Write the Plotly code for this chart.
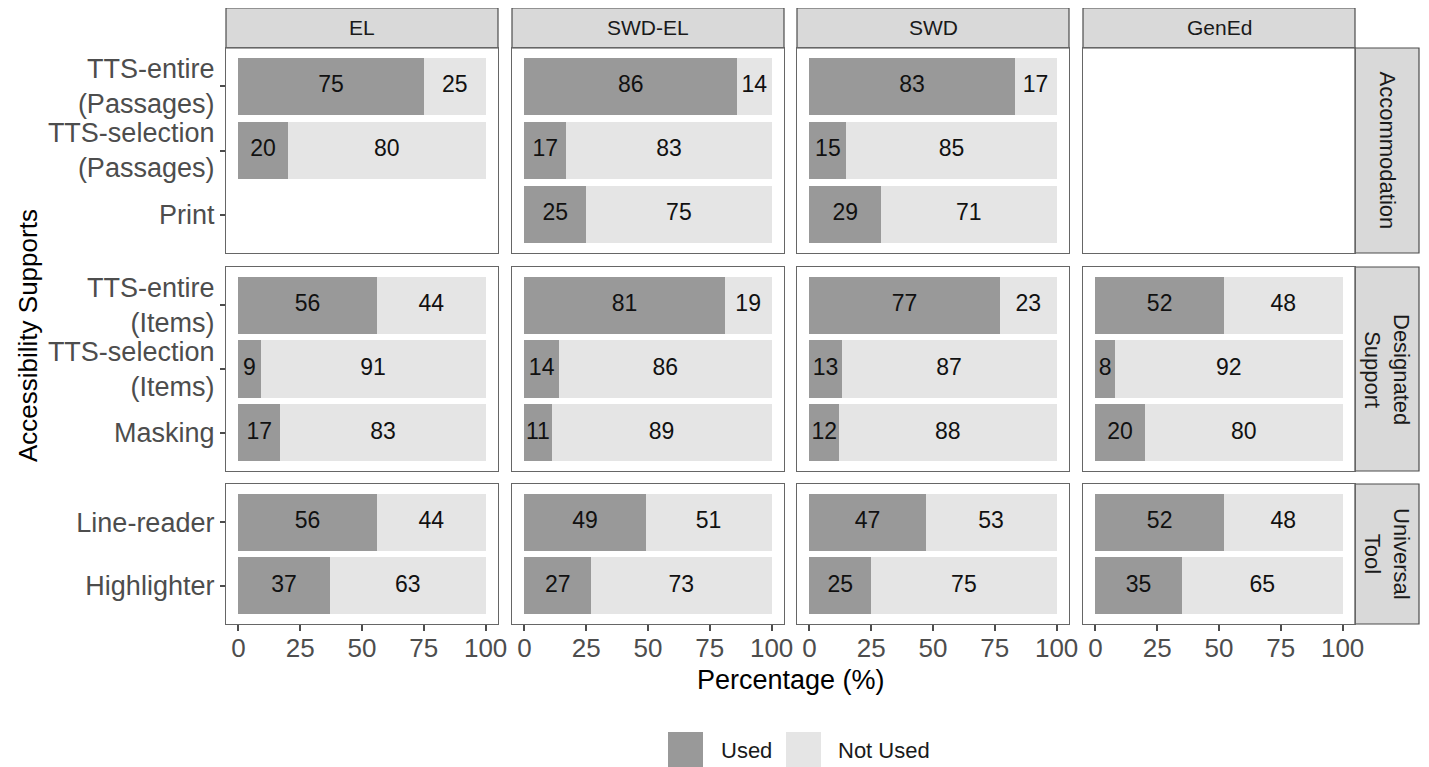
import plotly.graph_objects as go

# ---------------- data ----------------
groups = ["EL", "SWD-EL", "SWD", "GenEd"]
row_types = ["Accommodation", "Designated<br>Support", "Universal<br>Tool"]

cats_accommodation = ["TTS-entire<br>(Passages)", "TTS-selection<br>(Passages)", "Print"]
cats_designated = ["TTS-entire<br>(Items)", "TTS-selection<br>(Items)", "Masking"]
cats_universal = ["Line-reader", "Highlighter"]

used_accommodation = {"EL": [75, 20, None], "SWD-EL": [86, 17, 25], "SWD": [83, 15, 29], "GenEd": [None, None, None]}
not_used_accommodation = {"EL": [25, 80, None], "SWD-EL": [14, 83, 75], "SWD": [17, 85, 71], "GenEd": [None, None, None]}

used_designated = {"EL": [56, 9, 17], "SWD-EL": [81, 14, 11], "SWD": [77, 13, 12], "GenEd": [52, 8, 20]}
not_used_designated = {"EL": [44, 91, 83], "SWD-EL": [19, 86, 89], "SWD": [23, 87, 88], "GenEd": [48, 92, 80]}

used_universal = {"EL": [56, 37], "SWD-EL": [49, 27], "SWD": [47, 25], "GenEd": [52, 35]}
not_used_universal = {"EL": [44, 63], "SWD-EL": [51, 73], "SWD": [53, 75], "GenEd": [48, 65]}

x_ticks = [0, 25, 50, 75, 100]

rows_data = [
    (cats_accommodation, used_accommodation, not_used_accommodation),
    (cats_designated, used_designated, not_used_designated),
    (cats_universal, used_universal, not_used_universal),
]

# ---------------- style / layout ----------------
PAGE_W, PAGE_H = 1429, 767
OFF = 8                       # default body margin of the html page
W, H = PAGE_W - OFF, PAGE_H - OFF
FONT = "Liberation Sans, Arial, sans-serif"
USED_COLOR = "#999999"
NOT_USED_COLOR = "#E5E5E5"
BORDER = "#666666"
STRIP_FILL = "#D9D9D9"

# positions in page pixels
col_px = [(226, 498), (512, 784), (797, 1069), (1083, 1355)]
row_px = [(48, 253), (267, 471), (484, 624)]


def fx(x):
    return (x - OFF) / W


def fy(y):
    return 1 - (y - OFF) / H


fig = go.Figure()
layout_axes = {}

for r, (cats, used, not_used) in enumerate(rows_data):
    n = len(cats)
    for c, g in enumerate(groups):
        idx = r * 4 + c + 1
        xa = "x" if idx == 1 else f"x{idx}"
        ya = "y" if idx == 1 else f"y{idx}"
        u = used[g]
        nu = not_used[g]
        fig.add_trace(go.Bar(
            y=cats, x=u, orientation="h", name="Used",
            marker=dict(color=USED_COLOR, line=dict(width=0)),
            width=0.9, xaxis=xa, yaxis=ya, showlegend=False, hoverinfo="skip",
        ))
        fig.add_trace(go.Bar(
            y=cats, x=nu, orientation="h", name="Not Used",
            marker=dict(color=NOT_USED_COLOR, line=dict(width=0)),
            width=0.9, xaxis=xa, yaxis=ya, showlegend=False, hoverinfo="skip",
        ))
        # value labels centred in each segment
        tx, ty, tt = [], [], []
        for cat, a, b in zip(cats, u, nu):
            if a is None:
                continue
            tx += [a / 2, a + b / 2]
            ty += [cat, cat]
            tt += [str(a), str(b)]
        if tx:
            fig.add_trace(go.Scatter(
                x=tx, y=ty, text=tt, mode="text",
                textfont=dict(family=FONT, size=23, color="#111111"),
                xaxis=xa, yaxis=ya, showlegend=False, hoverinfo="skip",
            ))

        x0, x1 = col_px[c]
        y0, y1 = row_px[r]
        xkey = "xaxis" if idx == 1 else f"xaxis{idx}"
        ykey = "yaxis" if idx == 1 else f"yaxis{idx}"
        bottom = (r == len(rows_data) - 1)
        left = (c == 0)
        layout_axes[xkey] = dict(
            domain=[fx(x0), fx(x1)], anchor=ya, range=[-5, 105],
            tickvals=x_ticks, showticklabels=bottom,
            ticks="outside" if bottom else "", ticklen=6, tickwidth=1.5, tickcolor="#4D4D4D",
            ticklabelstandoff=-5,
            tickfont=dict(family=FONT, size=26, color="#4D4D4D"),
            showline=True, mirror=True, linecolor=BORDER, linewidth=1.3,
            showgrid=False, zeroline=False, fixedrange=True, automargin=False,
        )
        layout_axes[ykey] = dict(
            domain=[fy(y1), fy(y0)], anchor=xa, type="category",
            categoryarray=cats, categoryorder="array",
            range=[n - 0.4, -0.6], autorange=False,
            showticklabels=left, ticks="outside" if left else "",
            ticklen=5, tickwidth=1.5, tickcolor="#4D4D4D",
            tickfont=dict(family=FONT, size=27, color="#4D4D4D"),
            showline=True, mirror=True, linecolor=BORDER, linewidth=1.3,
            showgrid=False, zeroline=False, fixedrange=True, automargin=False,
        )

shapes = []
annotations = []


def note(x, y, text, size, color, angle=0, xanchor="center"):
    annotations.append(dict(x=fx(x), y=fy(y), xref="paper", yref="paper",
                            text=text, showarrow=False, textangle=angle,
                            xanchor=xanchor, yanchor="middle",
                            font=dict(family=FONT, size=size, color=color)))


# top strips
for c, g in enumerate(groups):
    x0, x1 = col_px[c]
    shapes.append(dict(type="rect", xref="paper", yref="paper",
                       x0=fx(x0), x1=fx(x1), y0=fy(48), y1=fy(8),
                       fillcolor=STRIP_FILL, line=dict(color="#4D4D4D", width=1.2), layer="below"))
    note((x0 + x1) / 2, 28, g, 21, "#1A1A1A")

# right strips
for r, t in enumerate(row_types):
    y0, y1 = row_px[r]
    shapes.append(dict(type="rect", xref="paper", yref="paper",
                       x0=fx(1355), x1=fx(1419), y0=fy(y1), y1=fy(y0),
                       fillcolor=STRIP_FILL, line=dict(color="#4D4D4D", width=1.2), layer="below"))
    note(1387, (y0 + y1) / 2, t, 22, "#1A1A1A", angle=90)

# axis titles
note(791, 680, "Percentage (%)", 27, "#000000")
note(28, 336, "Accessibility Supports", 26, "#000000", angle=-90)

# legend (manual, ggplot-style large keys)
legend_items = [("Used", USED_COLOR, 668, 703, 719), ("Not Used", NOT_USED_COLOR, 786, 821, 836)]
for label, col, kx0, kx1, tx in legend_items:
    shapes.append(dict(type="rect", xref="paper", yref="paper",
                       x0=fx(kx0), x1=fx(kx1), y0=fy(767), y1=fy(732),
                       fillcolor=col, line=dict(width=0)))
    note(tx, 750, label, 22, "#1A1A1A", xanchor="left")

fig.update_layout(
    width=W, height=H,
    margin=dict(l=0, r=0, t=0, b=0),
    paper_bgcolor="white", plot_bgcolor="white",
    barmode="stack", bargap=0.1,
    showlegend=False,
    shapes=shapes, annotations=annotations,
    font=dict(family=FONT),
    **layout_axes,
)

fig.write_html("out.html")
